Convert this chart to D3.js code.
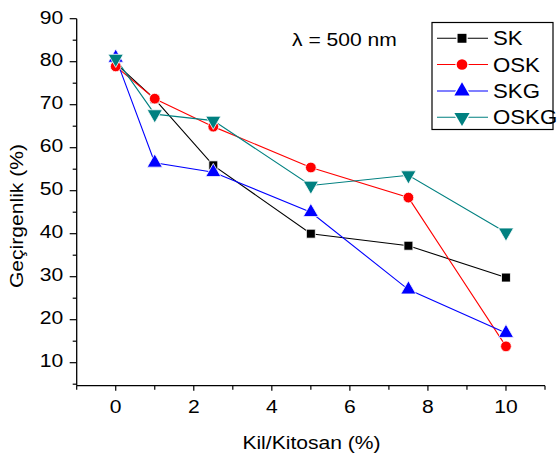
<!DOCTYPE html>
<html>
<head>
<meta charset="utf-8">
<script src="https://d3js.org/d3.v7.min.js"></script>
<style>
  body { margin: 0; background: #fff; }
  svg text { font-family: Arial, "Liberation Sans", sans-serif; fill: #000; }
</style>
</head>
<body>
<div id="chart"></div>
<script>
// chart data
var xValues = [0, 1, 2.5, 5, 7.5, 10];
var seriesNames = ["SK", "OSK", "SKG", "OSKG"];
var skValues   = [79.6, 71.3, 55.9, 40.0, 37.2, 29.8];
var oskValues  = [78.9, 71.4, 64.9, 55.4, 48.4, 13.8];
var skgValues  = [80.9, 56.5, 54.3, 45.0, 27.0, 16.9];
var oskgValues = [80.7, 67.8, 66.3, 51.2, 53.6, 40.3];
var xTicks = [0, 2, 4, 6, 8, 10];
var yTicks = [10, 20, 30, 40, 50, 60, 70, 80, 90];

var colors = ["#000000", "#ff0000", "#0000ff", "#008080"];
var symbols = [d3.symbolSquare, d3.symbolCircle, d3.symbolTriangle, d3.symbolTriangle];
var symSizes = [80, 90, 100, 100];
var flips = [false, false, false, true];
var allValues = [skValues, oskValues, skgValues, oskgValues];

var width = 559, height = 460;
var svg = d3.select("#chart").append("svg")
    .attr("width", width).attr("height", height);

var x = d3.scaleLinear().domain([-1, 11]).range([76.7, 545]);
var y = d3.scaleLinear().domain([4.65, 90]).range([385.7, 18.7]);

// text is a bit wider than plain Arial in the original
var SX = 1.14;
function label(parent, tx, ty, str, size, anchor, rot) {
  return parent.append("text")
    .attr("transform", "translate(" + tx + "," + ty + ")" + (rot ? " rotate(" + rot + ")" : "") + " scale(" + SX + ",1)")
    .attr("text-anchor", anchor || "start")
    .attr("font-size", size)
    .text(str);
}

// axes
var xAxis = svg.append("g").attr("transform", "translate(0," + y(4.65) + ")");
xAxis.append("line").attr("x1", x(-1)).attr("x2", x(11)).attr("stroke", "#000").attr("stroke-width", 1.3);
xAxis.selectAll(".xt").data(d3.range(-1, 12)).enter().append("line")
    .attr("x1", d => x(d)).attr("x2", d => x(d))
    .attr("y1", 0).attr("y2", d => (d % 2 === 0 ? 5 : 4))
    .attr("stroke", "#000").attr("stroke-width", 1.2);
xTicks.forEach(function(t) { label(xAxis, x(t), 27, t, 18.5, "middle"); });

var yAxis = svg.append("g").attr("transform", "translate(" + x(-1) + ",0)");
yAxis.append("line").attr("y1", y(4.65)).attr("y2", y(90)).attr("stroke", "#000").attr("stroke-width", 1.3);
yAxis.selectAll(".ym").data(d3.range(5, 91, 5)).enter().append("line")
    .attr("y1", d => y(d)).attr("y2", d => y(d))
    .attr("x1", d => (d % 10 === 0 ? -7 : -4)).attr("x2", 0)
    .attr("stroke", "#000").attr("stroke-width", 1.2);
yTicks.forEach(function(t) { label(yAxis, -13.5, y(t) + 4.8, t, 18.5, "end"); });

label(svg, 311.5, 449, "Kil/Kitosan (%)", 18.5, "middle");
label(svg, 23, 216, "Geçirgenlik (%)", 18.5, "middle", -90);

// series
var line = d3.line().x(d => x(d[0])).y(d => y(d[1]));
allValues.forEach(function(vals, i) {
  var pts = xValues.map((xv, j) => [xv, vals[j]]);
  svg.append("path").datum(pts)
    .attr("d", line).attr("fill", "none")
    .attr("stroke", colors[i]).attr("stroke-width", 1.1);
});
allValues.forEach(function(vals, i) {
  var pts = xValues.map((xv, j) => [xv, vals[j]]);
  svg.selectAll(".m" + i).data(pts).enter().append("path")
    .attr("d", d3.symbol().type(symbols[i]).size(symSizes[i]))
    .attr("transform", d => "translate(" + x(d[0]) + "," + y(d[1]) + ")" + (flips[i] ? " rotate(180)" : ""))
    .attr("fill", colors[i]).attr("stroke", "#fff").attr("stroke-width", 0.8);
});

// annotation
label(svg, 292, 45.5, "λ = 500 nm", 18.5);

// legend
var lg = svg.append("g");
lg.append("rect").attr("x", 432).attr("y", 22.5).attr("width", 121).attr("height", 107)
    .attr("fill", "#fff").attr("stroke", "#000").attr("stroke-width", 1.2);
var rowY = [38.3, 64.5, 91, 117.3];
seriesNames.forEach(function(name, i) {
  lg.append("line").attr("x1", 437).attr("x2", 488).attr("y1", rowY[i]).attr("y2", rowY[i])
    .attr("stroke", colors[i]).attr("stroke-width", 1.1);
  lg.append("path")
    .attr("d", d3.symbol().type(symbols[i]).size(symSizes[i]))
    .attr("transform", "translate(462," + rowY[i] + ")" + (flips[i] ? " rotate(180)" : ""))
    .attr("fill", colors[i]).attr("stroke", "#fff").attr("stroke-width", 2.5).attr("paint-order", "stroke");
  label(lg, 493, rowY[i] + 7, name, 19.5);
});
</script>
</body>
</html>
